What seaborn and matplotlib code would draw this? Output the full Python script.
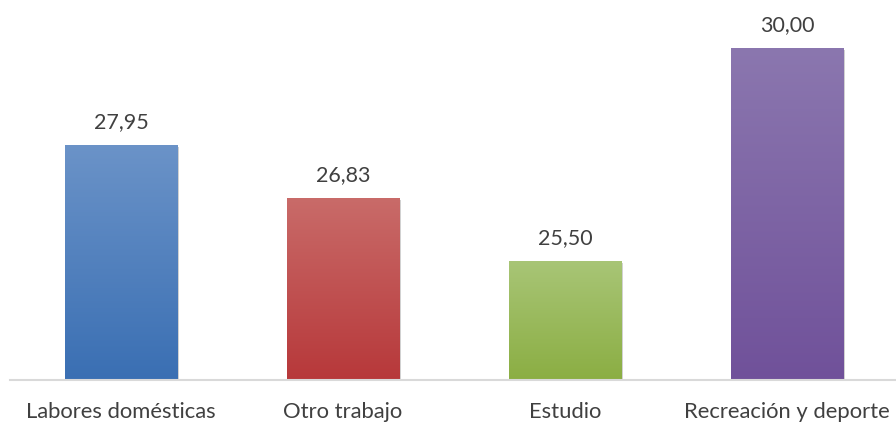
import numpy as np
import pandas as pd
import matplotlib
matplotlib.use("Agg")
import matplotlib.pyplot as plt
import matplotlib.patheffects as pe
from matplotlib.colors import LinearSegmentedColormap
import seaborn as sns

categorias = ["Labores domésticas", "Otro trabajo", "Estudio", "Recreación y deporte"]
valores = [27.95, 26.83, 25.50, 30.00]
etiquetas = ["27,95", "26,83", "25,50", "30,00"]
color_arriba = ["#6b93c8", "#c96b69", "#a8c576", "#8b77af"]
color_abajo = ["#3a6fb3", "#b7383a", "#8bae43", "#70519a"]

sns.set_theme(style="white")
plt.rcParams["font.family"] = ["Lato", "DejaVu Sans"]

df = pd.DataFrame({"categoria": categorias, "valor": valores})

fig = plt.figure(figsize=(8.96, 4.25), dpi=100)
ax = fig.add_axes([10 / 896, 45 / 425, 888 / 896, 380 / 425])

sns.barplot(data=df, x="categoria", y="valor", ax=ax, width=0.505,
            color="#888888", saturation=1, edgecolor="none")

ax.set_ylim(23, 31)
ax.set_xlim(-0.5, 3.5)

for bar, c_top, c_bot, lab in zip(ax.patches, color_arriba, color_abajo, etiquetas):
    x0, y0 = bar.get_x(), bar.get_y()
    w, h = bar.get_width(), bar.get_height()
    top = y0 + h
    bar.set_facecolor(c_bot)
    bar.set_path_effects([pe.SimplePatchShadow(offset=(1.5, -1.5), shadow_rgbFace="#9a9a9a", alpha=0.45), pe.Normal()])
    cmap = LinearSegmentedColormap.from_list("g", [c_bot, c_top])
    grad = np.linspace(0, 1, 256).reshape(-1, 1)
    im = ax.imshow(grad, cmap=cmap, origin="lower", aspect="auto",
                   extent=(x0, x0 + w, ax.get_ylim()[0], top), zorder=bar.get_zorder() + 0.1)
    im.set_clip_path(bar)
    ax.text(x0 + w / 2, top + 0.27, lab, ha="center", va="bottom",
            fontsize=15.5, color="#404040")

ax.set_xlim(-0.5, 3.5)
ax.set_ylim(23, 31)
ax.set_xlabel("")
ax.set_ylabel("")
ax.set_yticks([])
ax.tick_params(axis="x", length=0, labelsize=15.8, labelcolor="#404040", pad=16)
for s in ["top", "left", "right"]:
    ax.spines[s].set_visible(False)
ax.spines["bottom"].set_color("#d9d9d9")
ax.spines["bottom"].set_linewidth(1.5)

fig.savefig("out.png", dpi=100)
